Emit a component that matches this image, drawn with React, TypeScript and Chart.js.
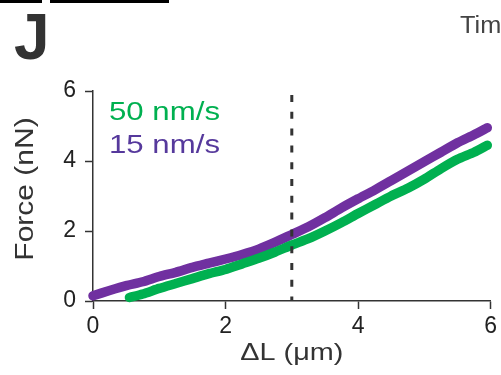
import React, { useEffect, useRef } from "react";
import { Chart, registerables } from "chart.js";

Chart.register(...registerables);

// ---- data ----
const slowX = [0, 0.25, 0.5, 0.75, 1, 1.25, 1.5, 1.75, 2, 2.25, 2.5, 2.75, 3, 3.25, 3.5, 3.75, 4, 4.25, 4.5, 4.75, 5, 5.25, 5.5, 5.75, 5.95];
const slowY = [0.15, 0.3, 0.44, 0.55, 0.7, 0.82, 0.96, 1.08, 1.2, 1.33, 1.48, 1.68, 1.9, 2.12, 2.38, 2.66, 2.92, 3.17, 3.44, 3.71, 3.98, 4.25, 4.52, 4.75, 4.95];
const fastX = [0.55, 0.75, 1, 1.25, 1.5, 1.75, 2, 2.25, 2.5, 2.75, 3, 3.25, 3.5, 3.75, 4, 4.25, 4.5, 4.75, 5, 5.25, 5.5, 5.75, 5.95];
const fastY = [0.1, 0.2, 0.36, 0.5, 0.64, 0.78, 0.9, 1.06, 1.22, 1.4, 1.6, 1.78, 2.0, 2.24, 2.5, 2.75, 3.0, 3.22, 3.48, 3.78, 4.05, 4.25, 4.45];
const seriesLabels = ["50 nm/s", "15 nm/s"];
const xTicks = [0, 2, 4, 6];
const yTicks = [0, 2, 4, 6];
const markerX = 3;
const xTitle = "ΔL (μm)";
const yTitle = "Force (nN)";
const panelLabel = "J";
const nextPanelText = "Time";

const GREEN = "#00B050";
const PURPLE = "#7030A0";
const FONT = "'Liberation Sans', Arial, Helvetica, sans-serif";

function drawText(
  ctx: CanvasRenderingContext2D,
  text: string,
  x: number,
  y: number,
  font: string,
  color: string,
  align: CanvasTextAlign,
  sx: number,
  rotate = false
) {
  ctx.save();
  ctx.translate(x, y);
  if (rotate) ctx.rotate(-Math.PI / 2);
  ctx.scale(sx, 1);
  ctx.font = font;
  ctx.fillStyle = color;
  ctx.textAlign = align;
  ctx.textBaseline = "alphabetic";
  ctx.fillText(text, 0, 0);
  ctx.restore();
}

const decorPlugin = {
  id: "decor",
  afterDatasetsDraw(chart: any) {
    const ctx: CanvasRenderingContext2D = chart.ctx;
    const xs = chart.scales.x;
    const ys = chart.scales.y;
    // dashed marker line
    const px = xs.getPixelForValue(markerX);
    ctx.save();
    ctx.strokeStyle = "#333333";
    ctx.lineWidth = 3;
    ctx.setLineDash([7, 9.8]);
    ctx.beginPath();
    ctx.moveTo(px, ys.top + 4);
    ctx.lineTo(px, ys.bottom);
    ctx.stroke();
    ctx.restore();
  },
  afterDraw(chart: any) {
    const ctx: CanvasRenderingContext2D = chart.ctx;
    const xs = chart.scales.x;
    // remnants of the panel above
    ctx.save();
    ctx.fillStyle = "#000";
    ctx.fillRect(0, 0, 42, 3);
    ctx.fillRect(50, 0, 119, 3);
    ctx.restore();
    drawText(ctx, panelLabel, 14, 59, `bold 64px ${FONT}`, "#333333", "left", 1);
    drawText(ctx, nextPanelText, 460, 33, `23px ${FONT}`, "#444444", "left", 1.1);
    // legend
    drawText(ctx, seriesLabels[0], 109, 120, `26px ${FONT}`, GREEN, "left", 1.2);
    drawText(ctx, seriesLabels[1], 109, 153, `26px ${FONT}`, "#56399c", "left", 1.2);
    // axis titles
    const cx = (xs.left + xs.right) / 2;
    drawText(ctx, xTitle, cx, 360, `24px ${FONT}`, "#333333", "center", 1.2);
    drawText(ctx, yTitle, 33, 189, `25px ${FONT}`, "#333333", "center", 1.2, true);
  },
};

export default function App() {
  const ref = useRef<HTMLCanvasElement | null>(null);
  useEffect(() => {
    if (!ref.current) return;
    const slow = slowX.map((x, i) => ({ x, y: slowY[i] }));
    const fast = fastX.map((x, i) => ({ x, y: fastY[i] }));
    const axisCommon = (ticks: number[]) => ({
      type: "linear" as const,
      min: ticks[0],
      max: ticks[ticks.length - 1],
      ticks: {
        stepSize: ticks[1] - ticks[0],
        color: "#222222",
        font: { family: FONT, size: 23 },
      },
      grid: {
        display: true,
        drawOnChartArea: false,
        drawTicks: true,
        tickLength: 8,
        tickColor: "#333333",
        tickWidth: 1.5,
      },
      border: { display: true, color: "#333333", width: 1.5 },
    });
    const chart = new Chart(ref.current, {
      type: "line",
      data: {
        datasets: [
          {
            label: seriesLabels[0],
            data: fast,
            borderColor: GREEN,
            backgroundColor: GREEN,
            borderWidth: 9.5,
            pointRadius: 0,
            tension: 0.2,
            borderCapStyle: "round",
            borderJoinStyle: "round",
            clip: false as any,
          },
          {
            label: seriesLabels[1],
            data: slow,
            borderColor: PURPLE,
            backgroundColor: PURPLE,
            borderWidth: 9.5,
            pointRadius: 0,
            tension: 0.2,
            borderCapStyle: "round",
            borderJoinStyle: "round",
            clip: false as any,
          },
        ],
      },
      options: {
        animation: false,
        responsive: false,
        maintainAspectRatio: false,
        layout: { padding: { top: 91, right: 7, left: 0, bottom: 0 } },
        plugins: { legend: { display: false }, tooltip: { enabled: false } },
        scales: {
          x: {
            ...axisCommon(xTicks),
            ticks: { ...axisCommon(xTicks).ticks, padding: 4, maxRotation: 0 },
            afterFit: (s: any) => {
              s.height = 74;
            },
          },
          y: {
            ...axisCommon(yTicks),
            ticks: { ...axisCommon(yTicks).ticks, padding: 9 },
            afterFit: (s: any) => {
              s.width = 93;
            },
          },
        } as any,
      },
      plugins: [decorPlugin],
    });
    return () => chart.destroy();
  }, []);
  return (
    <div style={{ position: "fixed", left: 0, top: 0, width: 501, height: 375, background: "#fff" }}>
      <canvas ref={ref} width={501} height={375} style={{ display: "block", width: 501, height: 375 }} />
    </div>
  );
}
